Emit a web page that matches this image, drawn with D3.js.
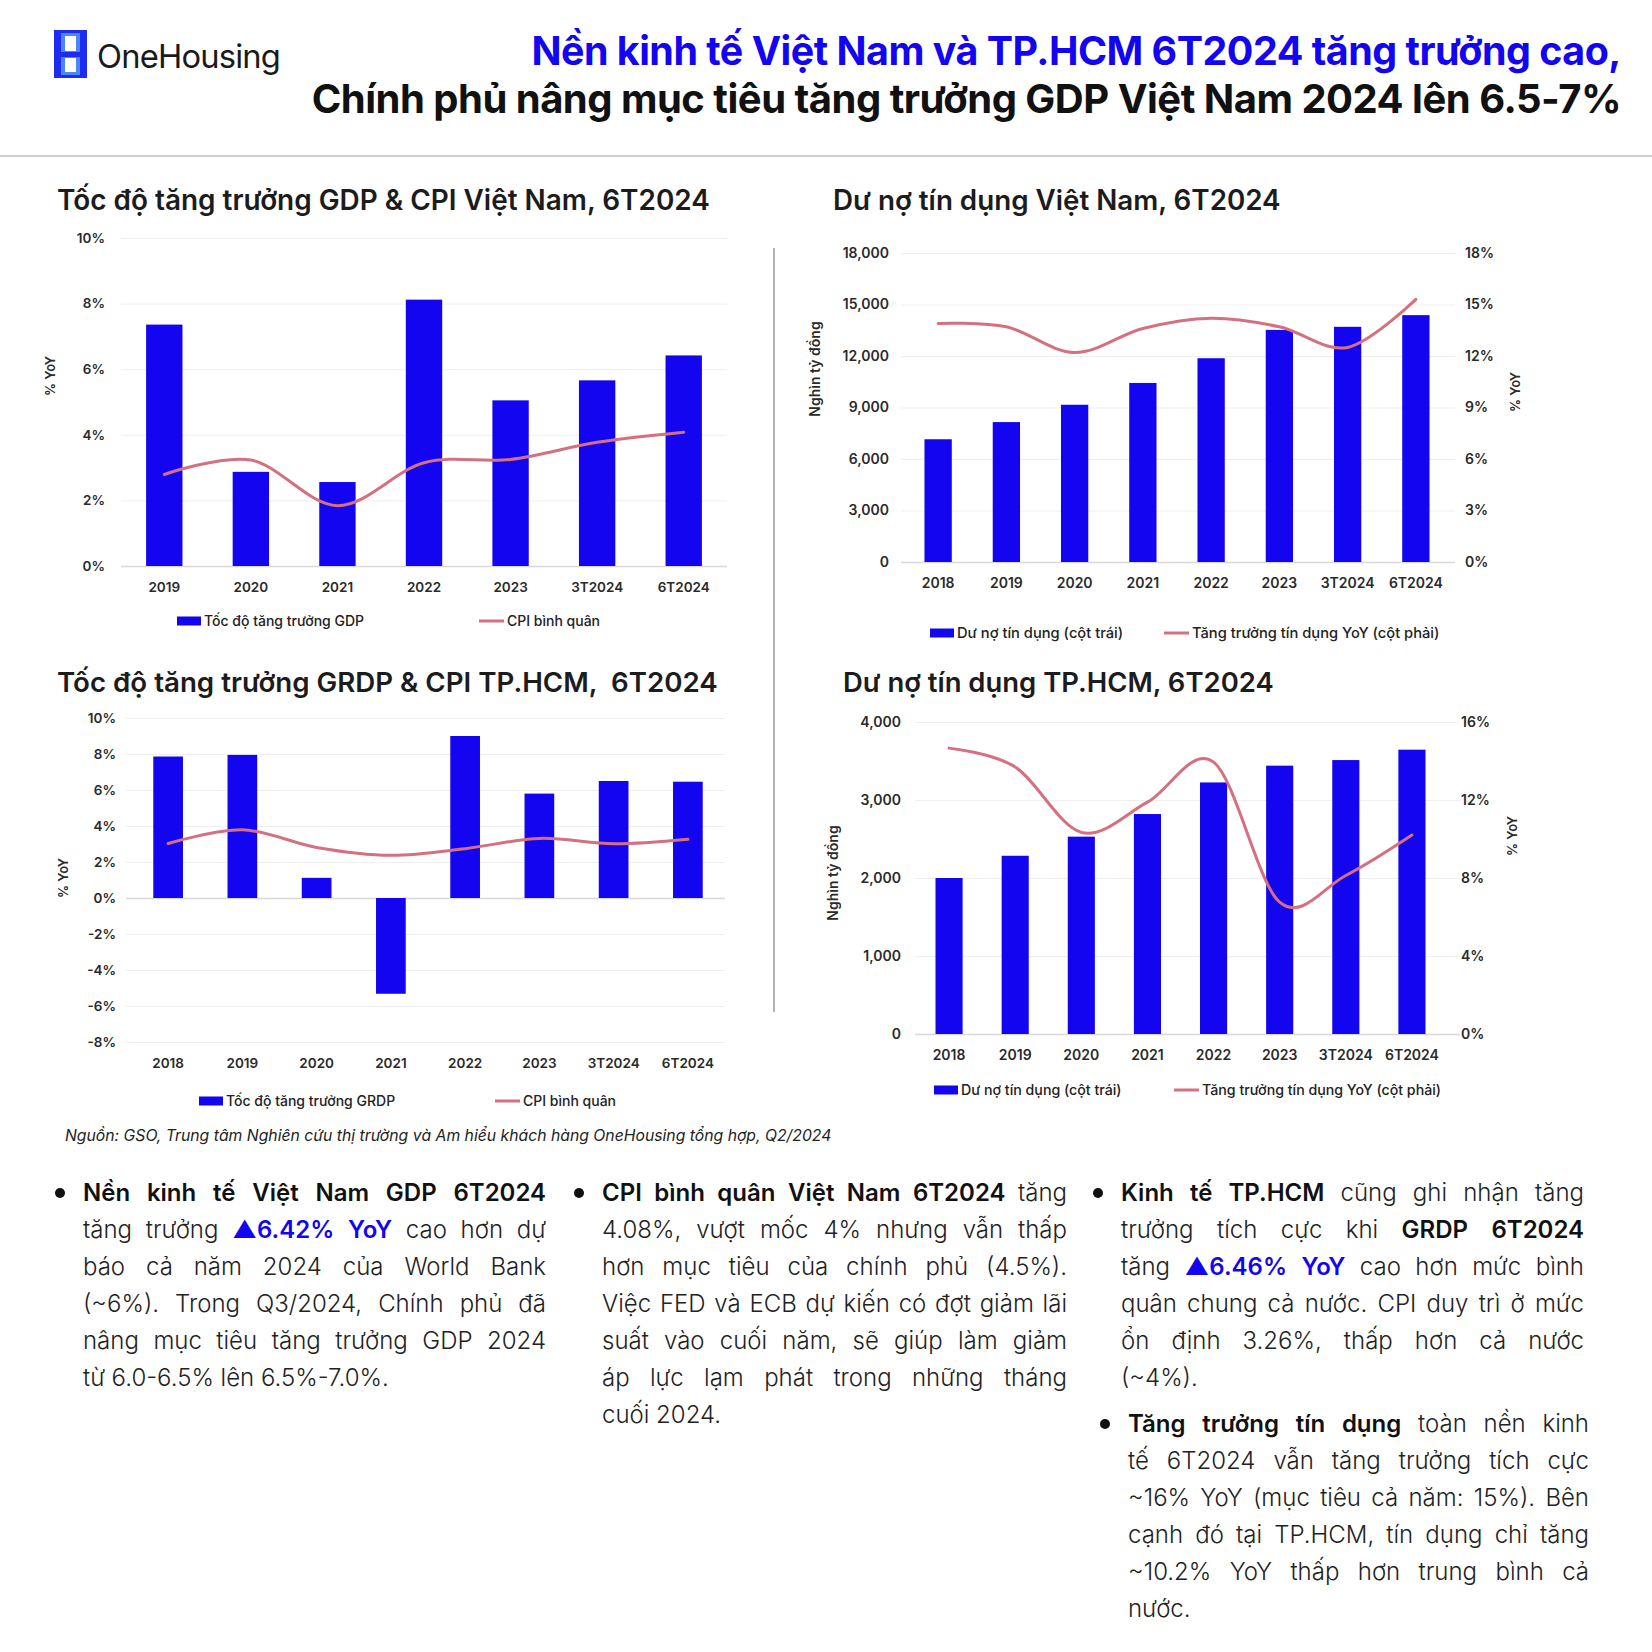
<!DOCTYPE html>
<html>
<head>
<meta charset="utf-8">
<script src="https://cdn.jsdelivr.net/npm/d3@7"></script>
<style>
    body { margin: 0; background: #fff; }
    svg { display: block; }
    text { font-family: Inter, "Noto Sans", sans-serif; }
</style>
</head>
<body>
<svg id="chart" width="1652" height="1652"></svg>
<script>
/* Data */
const gdpYears = ['2019', '2020', '2021', '2022', '2023', '3T2024', '6T2024'];
const vnGdpGrowth = [7.36, 2.87, 2.56, 8.12, 5.05, 5.66, 6.42];
const vnCpi = [2.79, 3.23, 1.84, 3.15, 3.25, 3.77, 4.08];
const gdpTicks = [0, 2, 4, 6, 8, 10];

const creditYears = ['2018', '2019', '2020', '2021', '2022', '2023', '3T2024', '6T2024'];
const vnCredit = [7150, 8150, 9160, 10430, 11870, 13520, 13700, 14380];
const vnCreditGrowth = [13.9, 13.7, 12.2, 13.6, 14.2, 13.7, 12.5, 15.3];
const vnCreditTicks = [0, 3000, 6000, 9000, 12000, 15000, 18000];
const vnGrowthTicks = [0, 3, 6, 9, 12, 15, 18];

const hcmGrdp = [7.86, 7.95, 1.12, -5.32, 9.0, 5.8, 6.5, 6.46];
const hcmCpi = [3.03, 3.79, 2.81, 2.37, 2.74, 3.31, 3.01, 3.26];
const hcmGrdpTicks = [-8, -6, -4, -2, 0, 2, 4, 6, 8, 10];

const hcmCredit = [2000, 2285, 2530, 2820, 3225, 3440, 3512, 3645];
const hcmCreditGrowth = [14.66, 13.69, 10.34, 11.89, 13.94, 6.76, 8.13, 10.2];
const hcmCreditTicks = [0, 1000, 2000, 3000, 4000];
const hcmGrowthTicks = [0, 4, 8, 12, 16];

// body text: one entry per printed line, [text, style] with n = normal, b = bold, h = highlight
const para1 = [
    [['Nền kinh tế Việt Nam GDP 6T2024', 'b']],
    [['tăng trưởng', 'n'], ['▲6.42% YoY', 'h'], ['cao hơn dự', 'n']],
    [['báo cả năm 2024 của World Bank', 'n']],
    [['(~6%). Trong Q3/2024, Chính phủ đã', 'n']],
    [['nâng mục tiêu tăng trưởng GDP 2024', 'n']],
    [['từ 6.0-6.5% lên 6.5%-7.0%.', 'n']],
];
const para2 = [
    [['CPI bình quân Việt Nam 6T2024', 'b'], ['tăng', 'n']],
    [['4.08%, vượt mốc 4% nhưng vẫn thấp', 'n']],
    [['hơn mục tiêu của chính phủ (4.5%).', 'n']],
    [['Việc FED và ECB dự kiến có đợt giảm lãi', 'n']],
    [['suất vào cuối năm, sẽ giúp làm giảm', 'n']],
    [['áp lực lạm phát trong những tháng', 'n']],
    [['cuối 2024.', 'n']],
];
const para3 = [
    [['Kinh tế TP.HCM', 'b'], ['cũng ghi nhận tăng', 'n']],
    [['trưởng tích cực khi', 'n'], ['GRDP 6T2024', 'b']],
    [['tăng', 'n'], ['▲6.46% YoY', 'h'], ['cao hơn mức bình', 'n']],
    [['quân chung cả nước. CPI duy trì ở mức', 'n']],
    [['ổn định 3.26%, thấp hơn cả nước', 'n']],
    [['(~4%).', 'n']],
];
const para4 = [
    [['Tăng trưởng tín dụng', 'b'], ['toàn nền kinh', 'n']],
    [['tế 6T2024 vẫn tăng trưởng tích cực', 'n']],
    [['~16% YoY (mục tiêu cả năm: 15%). Bên', 'n']],
    [['cạnh đó tại TP.HCM, tín dụng chỉ tăng', 'n']],
    [['~10.2% YoY thấp hơn trung bình cả', 'n']],
    [['nước.', 'n']],
];

const BLUE = '#1405f0';
const PINK = '#d4707f';
const INK = '#1c1c1c';

const svg = d3.select('#chart');
svg.append('rect').attr('width', 1652).attr('height', 1652).attr('fill', '#fff');

// scale a text's font size so it spans the given width
function fitText(sel, width) {
    const size = +sel.attr('font-size');
    const w = sel.node().getComputedTextLength();
    sel.attr('font-size', (size * width) / w);
    return sel;
}

function styleAxis(g, size) {
    g.select('.domain').remove();
    g.attr('font-family', null).attr('font-size', null);
    g.selectAll('text')
        .attr('font-size', size)
        .attr('font-weight', 600)
        .attr('fill', '#2a2a2a');
}

/* Header */
const logo = svg.append('g');
logo.append('rect').attr('x', 54).attr('y', 30).attr('width', 33).attr('height', 48).attr('fill', '#1d2cf3');
logo.append('rect').attr('x', 61).attr('y', 33).attr('width', 19).attr('height', 42).attr('fill', '#4a86ff');
logo.append('rect').attr('x', 65).attr('y', 36).attr('width', 11).attr('height', 15).attr('fill', '#fff');
logo.append('rect').attr('x', 65).attr('y', 58).attr('width', 11).attr('height', 14).attr('fill', '#fff');
logo.append('rect').attr('x', 61).attr('y', 52).attr('width', 19).attr('height', 5).attr('fill', '#1d2cf3');
fitText(
    logo.append('text').attr('x', 97).attr('y', 68).attr('font-size', 32)
        .attr('font-family', 'Lato, "Noto Sans", sans-serif').attr('fill', '#1a1a1a')
        .attr('letter-spacing', -0.8).text('OneHousing'),
    183
);

fitText(
    svg.append('text').attr('x', 1621).attr('y', 65).attr('text-anchor', 'end')
        .attr('font-size', 38).attr('font-weight', 700).attr('fill', BLUE)
        .attr('letter-spacing', -0.5)
        .text('Nền kinh tế Việt Nam và TP.HCM 6T2024 tăng trưởng cao,'),
    1089
);
fitText(
    svg.append('text').attr('x', 1621).attr('y', 113).attr('text-anchor', 'end')
        .attr('font-size', 38).attr('font-weight', 700).attr('fill', '#111')
        .attr('letter-spacing', -0.5)
        .text('Chính phủ nâng mục tiêu tăng trưởng GDP Việt Nam 2024 lên 6.5-7%'),
    1308
);
svg.append('line').attr('x1', 0).attr('x2', 1652).attr('y1', 156).attr('y2', 156)
    .attr('stroke', '#cfcfcf').attr('stroke-width', 2);
svg.append('line').attr('x1', 774).attr('x2', 774).attr('y1', 248).attr('y2', 1012)
    .attr('stroke', '#9a9a9a').attr('stroke-width', 1.5);

/* Combo chart: bars on the left axis, smoothed line on the right one (or left) */
function drawCombo(o) {
    const g = svg.append('g');

    fitText(
        g.append('text').attr('x', o.title.x).attr('y', o.title.y).attr('font-size', 27)
            .attr('font-weight', 600).attr('fill', INK).attr('xml:space', 'preserve').text(o.title.text),
        o.title.width
    );

    const x = d3.scaleBand().domain(o.cats).range(o.band).paddingInner(o.pad).paddingOuter(o.pad / 2);
    const yL = d3.scaleLinear().domain(o.leftDomain).range([o.yBottom, o.yTop]);
    const yR = o.rightDomain ? d3.scaleLinear().domain(o.rightDomain).range([o.yBottom, o.yTop]) : yL;

    g.append('g')
        .attr('transform', `translate(${o.grid[0]},0)`)
        .call(d3.axisRight(yL).tickValues(o.leftTicks).tickSize(o.grid[1] - o.grid[0]).tickFormat(''))
        .call((s) => s.select('.domain').remove())
        .selectAll('line')
        .attr('stroke', (d) => (d === 0 ? '#d8d8d8' : '#efefef'))
        .attr('stroke-width', (d) => (d === 0 ? 1.5 : 1));

    g.append('g')
        .attr('transform', `translate(${o.grid[0]},0)`)
        .call(d3.axisLeft(yL).tickValues(o.leftTicks).tickSize(0)
            .tickPadding(o.grid[0] - o.leftLabelX).tickFormat(o.leftFormat))
        .call((s) => styleAxis(s, o.tickSize));

    if (o.rightDomain) {
        g.append('g')
            .attr('transform', `translate(${o.grid[1]},0)`)
            .call(d3.axisRight(yR).tickValues(o.rightTicks).tickSize(0)
                .tickPadding(o.rightLabelX - o.grid[1]).tickFormat(o.rightFormat))
            .call((s) => styleAxis(s, o.tickSize));
    }

    g.append('g')
        .attr('transform', `translate(0,${o.xLabelY})`)
        .call(d3.axisBottom(x).tickSize(0).tickPadding(0))
        .call((s) => styleAxis(s, o.tickSize))
        .selectAll('text')
        .attr('dy', '0.35em');

    g.selectAll('.bar')
        .data(o.bars)
        .join('rect')
        .attr('class', 'bar')
        .attr('x', (d, i) => x(o.cats[i]))
        .attr('width', x.bandwidth())
        .attr('y', (d) => yL(Math.max(0, d)))
        .attr('height', (d) => Math.abs(yL(d) - yL(0)))
        .attr('fill', BLUE);

    const line = d3.line()
        .x((d, i) => x(o.cats[i]) + x.bandwidth() / 2)
        .y((d) => yR(d))
        .curve(d3.curveCardinal.tension(0));
    g.append('path').attr('d', line(o.line)).attr('fill', 'none')
        .attr('stroke', PINK).attr('stroke-width', 3).attr('stroke-linecap', 'round');

    o.axisTitles.forEach((t) => {
        g.append('text')
            .attr('transform', `translate(${t.x},${t.y}) rotate(-90)`)
            .attr('text-anchor', 'middle').attr('dy', '0.35em')
            .attr('font-size', t.size).attr('font-weight', 600).attr('fill', '#2a2a2a')
            .text(t.text);
    });

    const lg = o.legend;
    g.append('rect').attr('x', lg.barX).attr('y', lg.y - 4.5).attr('width', 24).attr('height', 9).attr('fill', BLUE);
    g.append('text').attr('x', lg.barX + 27).attr('y', lg.y).attr('dy', '0.35em')
        .attr('font-size', lg.size).attr('font-weight', 500).attr('fill', '#222').text(lg.barLabel);
    g.append('line').attr('x1', lg.lineX).attr('x2', lg.lineX + 25).attr('y1', lg.y).attr('y2', lg.y)
        .attr('stroke', PINK).attr('stroke-width', 3);
    g.append('text').attr('x', lg.lineX + 28).attr('y', lg.y).attr('dy', '0.35em')
        .attr('font-size', lg.size).attr('font-weight', 500).attr('fill', '#222').text(lg.lineLabel);
}

const pct = (d) => d + '%';
const thousands = d3.format(',');

drawCombo({
    title: { text: 'Tốc độ tăng trưởng GDP & CPI Việt Nam, 6T2024', x: 57, y: 210, width: 653 },
    cats: gdpYears, bars: vnGdpGrowth, line: vnCpi,
    band: [121, 727], pad: 0.58, grid: [121, 727],
    yTop: 238, yBottom: 566,
    leftDomain: [0, 10], leftTicks: gdpTicks, leftFormat: pct, leftLabelX: 105,
    xLabelY: 587, tickSize: 13.5,
    axisTitles: [{ text: '% YoY', x: 50, y: 376, size: 13 }],
    legend: { y: 621, size: 14, barX: 177, barLabel: 'Tốc độ tăng trưởng GDP', lineX: 479, lineLabel: 'CPI bình quân' },
});

drawCombo({
    title: { text: 'Dư nợ tín dụng Việt Nam, 6T2024', x: 833, y: 210, width: 448 },
    cats: creditYears, bars: vnCredit, line: vnCreditGrowth,
    band: [904, 1450], pad: 0.6, grid: [901, 1455],
    yTop: 253, yBottom: 562,
    leftDomain: [0, 18000], leftTicks: vnCreditTicks, leftFormat: thousands, leftLabelX: 889,
    rightDomain: [0, 18], rightTicks: vnGrowthTicks, rightFormat: pct, rightLabelX: 1465,
    xLabelY: 583, tickSize: 14,
    axisTitles: [
        { text: 'Nghìn tỷ đồng', x: 815, y: 369, size: 14 },
        { text: '% YoY', x: 1515, y: 392, size: 13 },
    ],
    legend: { y: 633, size: 14.7, barX: 930, barLabel: 'Dư nợ tín dụng (cột trái)', lineX: 1164, lineLabel: 'Tăng trưởng tín dụng YoY (cột phải)' },
});

drawCombo({
    title: { text: 'Tốc độ tăng trưởng GRDP & CPI TP.HCM,  6T2024', x: 57, y: 692, width: 661 },
    cats: creditYears, bars: hcmGrdp, line: hcmCpi,
    band: [131, 725], pad: 0.6, grid: [126, 725],
    yTop: 718, yBottom: 1042,
    leftDomain: [-8, 10], leftTicks: hcmGrdpTicks, leftFormat: pct, leftLabelX: 116,
    xLabelY: 1063, tickSize: 13.5,
    axisTitles: [{ text: '% YoY', x: 63, y: 878, size: 13 }],
    legend: { y: 1101, size: 14, barX: 199, barLabel: 'Tốc độ tăng trưởng GRDP', lineX: 495, lineLabel: 'CPI bình quân' },
});

drawCombo({
    title: { text: 'Dư nợ tín dụng TP.HCM, 6T2024', x: 843, y: 692, width: 431 },
    cats: creditYears, bars: hcmCredit, line: hcmCreditGrowth,
    band: [916, 1445], pad: 0.59, grid: [915, 1460],
    yTop: 722, yBottom: 1034,
    leftDomain: [0, 4000], leftTicks: hcmCreditTicks, leftFormat: thousands, leftLabelX: 901,
    rightDomain: [0, 16], rightTicks: hcmGrowthTicks, rightFormat: pct, rightLabelX: 1461,
    xLabelY: 1055, tickSize: 14,
    axisTitles: [
        { text: 'Nghìn tỷ đồng', x: 833, y: 873, size: 14 },
        { text: '% YoY', x: 1512, y: 836, size: 13 },
    ],
    legend: { y: 1090, size: 14.2, barX: 934, barLabel: 'Dư nợ tín dụng (cột trái)', lineX: 1174, lineLabel: 'Tăng trưởng tín dụng YoY (cột phải)' },
});

fitText(
    svg.append('text').attr('x', 65).attr('y', 1141).attr('font-size', 15).attr('font-style', 'italic')
        .attr('fill', '#222')
        .text('Nguồn: GSO, Trung tâm Nghiên cứu thị trường và Am hiểu khách hàng OneHousing tổng hợp, Q2/2024'),
    767
);

/* Justified bullet paragraphs, one printed line per entry */
function drawParagraph(lines, o) {
    const g = svg.append('g');
    g.append('circle').attr('cx', o.bulletX).attr('cy', o.y - 8).attr('r', 5).attr('fill', '#111');
    lines.forEach((segs, i) => {
        const y = o.y + i * o.lh;
        const row = g.append('g');
        const words = segs.flatMap(([t, st]) => t.split(' ').map((w) => ({ w, st })));
        const nodes = words.map((d) =>
            row.append('text')
                .attr('y', y)
                .attr('font-size', o.size)
                .attr('font-weight', d.st === 'n' ? 300 : 600)
                .attr('fill', d.st === 'h' ? BLUE : d.st === 'b' ? '#111' : '#222')
                .text(d.w)
        );
        const widths = nodes.map((n) => n.node().getComputedTextLength());
        const total = d3.sum(widths);
        const span = o.x1 - o.x0;
        const last = i === lines.length - 1;
        let gap = last ? o.size * 0.28 : (span - total) / Math.max(1, words.length - 1);
        let scale = 1;
        if (gap < o.size * 0.15) {
            gap = o.size * 0.15;
            scale = span / (total + gap * (words.length - 1));
        }
        let cx = o.x0;
        nodes.forEach((n, k) => {
            n.attr('x', cx);
            cx += widths[k] + gap;
        });
        if (scale < 1) row.attr('transform', `translate(${o.x0},0) scale(${scale},1) translate(${-o.x0},0)`);
    });
}

drawParagraph(para1, { bulletX: 60, x0: 83, x1: 546, y: 1201, lh: 37, size: 24 });
drawParagraph(para2, { bulletX: 579, x0: 602, x1: 1067, y: 1201, lh: 37, size: 24 });
drawParagraph(para3, { bulletX: 1098, x0: 1121, x1: 1584, y: 1201, lh: 37, size: 24 });
drawParagraph(para4, { bulletX: 1105, x0: 1128, x1: 1589, y: 1432, lh: 37, size: 24 });
</script>
</body>
</html>
